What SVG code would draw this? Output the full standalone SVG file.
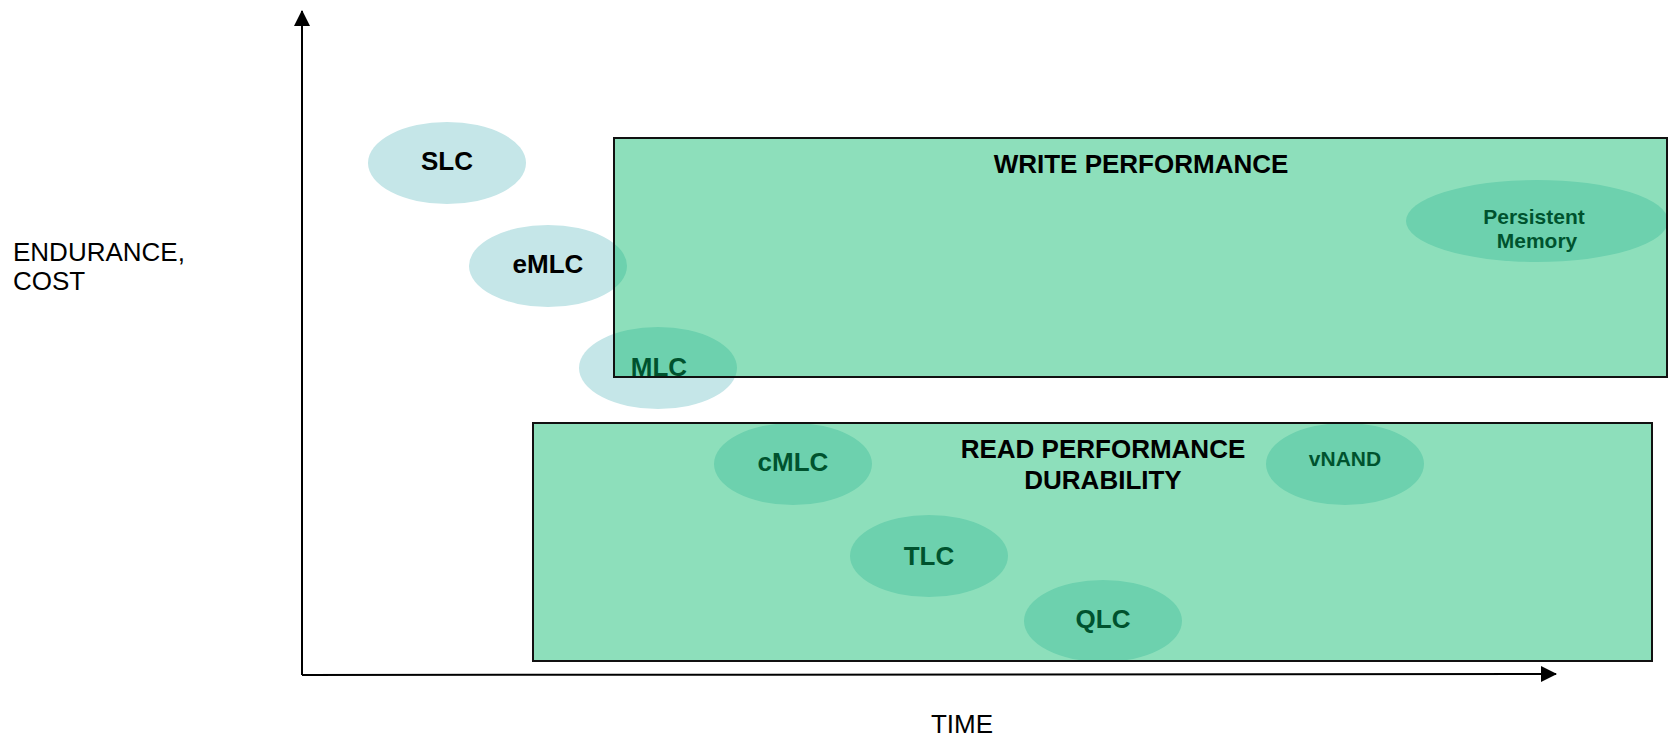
<svg xmlns="http://www.w3.org/2000/svg" width="1669" height="739" viewBox="0 0 1669 739">
  <defs>
    <marker id="arrow" viewBox="0 0 16 16" refX="15" refY="8" markerWidth="16" markerHeight="16" markerUnits="userSpaceOnUse" orient="auto">
      <path d="M0,0 L16,8 L0,16 Z" fill="#000"/>
    </marker>
  </defs>
  <style>
    /* translucent green bands laid over the cell ellipses */
    .zone { fill: rgb(0,183,103); fill-opacity: 0.448; stroke: #111; stroke-width: 2; }
    .cell { fill: #c5e6e8; }
    .lbl { font-family: "Liberation Sans", Arial, sans-serif; font-weight: bold; font-size: 26px; text-anchor: middle; fill: #000; }
    .small { font-size: 21px; }
    .axis-lbl { font-family: "Liberation Sans", Arial, sans-serif; font-size: 26px; fill: #000; }
  </style>

  <rect width="1669" height="739" fill="#fff"/>

  <!-- cell types -->
  <g id="slc">
    <ellipse class="cell" cx="447" cy="163" rx="79" ry="41"/>
    <text class="lbl" x="447" y="170">SLC</text>
  </g>
  <g id="emlc">
    <ellipse class="cell" cx="548" cy="266" rx="79" ry="41"/>
    <text class="lbl" x="548" y="273">eMLC</text>
  </g>
  <g id="mlc">
    <ellipse class="cell" cx="658" cy="368" rx="79" ry="41"/>
    <text class="lbl" x="659" y="376">MLC</text>
  </g>
  <g id="persistent-memory">
    <ellipse class="cell" cx="1537" cy="221" rx="131" ry="41"/>
    <text class="lbl small" x="1534" y="224">Persistent</text>
    <text class="lbl small" x="1537" y="248">Memory</text>
  </g>
  <g id="cmlc">
    <ellipse class="cell" cx="793" cy="464" rx="79" ry="41"/>
    <text class="lbl" x="793" y="471">cMLC</text>
  </g>
  <g id="vnand">
    <ellipse class="cell" cx="1345" cy="464" rx="79" ry="41"/>
    <text class="lbl small" x="1345" y="466">vNAND</text>
  </g>
  <g id="tlc">
    <ellipse class="cell" cx="929" cy="556" rx="79" ry="41"/>
    <text class="lbl" x="929" y="565">TLC</text>
  </g>
  <g id="qlc">
    <ellipse class="cell" cx="1103" cy="621" rx="79" ry="41"/>
    <text class="lbl" x="1103" y="628">QLC</text>
  </g>

  <!-- performance zones -->
  <g id="write-performance">
    <rect class="zone" x="614" y="138" width="1053" height="239"/>
    <text class="lbl" x="1141" y="173">WRITE PERFORMANCE</text>
  </g>
  <g id="read-performance">
    <rect class="zone" x="533" y="423" width="1119" height="238"/>
    <text class="lbl" x="1103" y="458">READ PERFORMANCE</text>
    <text class="lbl" x="1103" y="489">DURABILITY</text>
  </g>

  <!-- axes -->
  <g id="connectors" stroke="#000" stroke-width="2" fill="none">
    <line x1="302" y1="675" x2="302" y2="11" marker-end="url(#arrow)"/>
    <line x1="302" y1="675" x2="1556" y2="674" marker-end="url(#arrow)"/>
  </g>

  <g id="axis-labels">
    <text class="axis-lbl" x="13" y="261">ENDURANCE,</text>
    <text class="axis-lbl" x="13" y="290">COST</text>
    <text class="axis-lbl" x="962" y="733" text-anchor="middle">TIME</text>
  </g>
</svg>
